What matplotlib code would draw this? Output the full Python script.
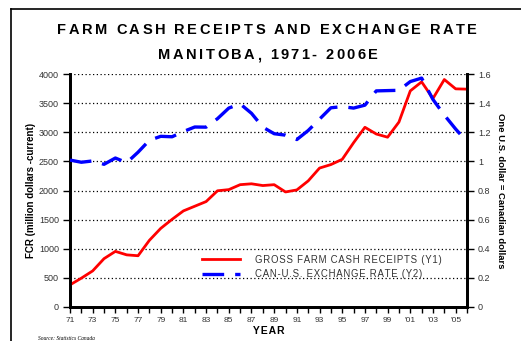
import matplotlib
matplotlib.use("Agg")
import matplotlib.pyplot as plt
from matplotlib.lines import Line2D
from matplotlib.font_manager import FontProperties

years = list(range(1971, 2007))
receipts = [380, 495, 620, 830, 955, 895, 880, 1145, 1350, 1505, 1650, 1730, 1810,
            1995, 2015, 2100, 2115, 2085, 2100, 1975, 2010, 2165, 2385, 2445, 2535,
            2820, 3085, 2970, 2915, 3175, 3710, 3865, 3580, 3905, 3745, 3740]
exchange = [1.009, 0.994, 1.003, 0.980, 1.023, 0.991, 1.063, 1.145, 1.172, 1.169,
            1.205, 1.236, 1.235, 1.293, 1.366, 1.395, 1.330, 1.235, 1.190, 1.180,
            1.150, 1.212, 1.290, 1.368, 1.376, 1.366, 1.386, 1.484, 1.486, 1.488,
            1.548, 1.572, 1.425, 1.318, 1.222, 1.135]
left_ticks = list(range(0, 4001, 500))
right_ticks = [0, 0.2, 0.4, 0.6, 0.8, 1, 1.2, 1.4, 1.6]
right_labels = ["0", "0.2", "0.4", "0.6", "0.8", "1", "1.2", "1.4", "1.6"]
year_labels = ["71", "73", "75", "77", "79", "81", "83", "85", "87", "89", "91",
               "93", "95", "97", "99", "'01", "'03", "'05"]
title_lines = ["FARM CASH RECEIPTS AND EXCHANGE RATE", "MANITOBA, 1971- 2006E"]

plt.rcParams['font.family'] = ['Liberation Sans', 'DejaVu Sans']

W, H = 521, 341
fig = plt.figure(figsize=(W/100, H/100), dpi=100)
renderer = fig.canvas.get_renderer()


def tracked_text(s, xc, y, size, track, weight='bold', color='black'):
    """Draw a line of text centred on xc (pixels) with extra letter spacing."""
    prop = FontProperties(family='Liberation Sans', size=size, weight=weight)
    widths = [renderer.get_text_width_height_descent(c, prop, ismath=False)[0] for c in s]
    total = sum(widths) + track * (len(s) - 1)
    x = xc - total / 2
    for c, w in zip(s, widths):
        fig.text(x / W, 1 - y / H, c, fontproperties=prop, color=color,
                 ha='left', va='center')
        x += w + track


ax = fig.add_axes([70/W, 1-307/H, (467-70)/W, (307-74)/H])
ax2 = ax.twinx()

ax.set_xlim(1971, 2006)
ax.set_ylim(0, 4000)
ax2.set_ylim(0, 1.6)

for y in left_ticks[1:]:
    ax.axhline(y, color='black', lw=0.9, ls=(0, (1, 2)), zorder=1)

red, = ax.plot(years, receipts, color='#ff0000', lw=2.0, zorder=3)
blue, = ax2.plot(years, exchange, color='#0000ff', lw=2.4, ls=(0, (6.5, 3.3)), zorder=3)

for a in (ax, ax2):
    for s in a.spines.values():
        s.set_linewidth(2.0)
    a.spines['top'].set_visible(False)

ax.set_yticks(left_ticks)
ax.set_yticklabels([str(v) for v in left_ticks], fontsize=6.5, color='#333333')
ax2.set_yticks(right_ticks)
ax2.set_yticklabels(right_labels, fontsize=6.5, color='#333333')
ax.set_xticks(years)
ax.set_xticklabels([year_labels[(y - 1971)//2] if (y - 1971) % 2 == 0 else "" for y in years],
                   fontsize=6, color='#333333')
ax.tick_params(axis='y', length=5, width=1, pad=3)
ax2.tick_params(axis='y', length=5, width=1, pad=3)
ax.tick_params(axis='x', length=4, width=1, pad=3)

ax.set_ylabel("FCR (million dollars -current)", fontsize=7, fontweight='bold', labelpad=2)
ax2.set_ylabel("One U.S. dollar = Canadian dollars", fontsize=6.8, fontweight='bold',
               rotation=-90, labelpad=10)
ax.set_xlabel("\u200aY\u200aE\u200aA\u200aR", fontsize=7.5, fontweight='bold', labelpad=2)

tracked_text(title_lines[0], 267, 30, 10.5, 2.5)
tracked_text(title_lines[1], 268, 55, 10.5, 2.4)

ax.legend([red, blue],
          ["\u200a".join("GROSS FARM CASH RECEIPTS (Y1)"),
           "\u200a".join("CAN-U.S. EXCHANGE RATE (Y2)")],
          loc='upper left', bbox_to_anchor=(0.31, 0.262), frameon=False, fontsize=6.9,
          handlelength=4.0, handletextpad=1.6, labelspacing=0.5, labelcolor='#333333')

fig.text(38/W, 1-338/H, "Source: Statistics Canada", fontsize=4, style='italic',
         family='Liberation Serif', va='center')

fig.add_artist(Line2D([11/W, 11/W], [0, 1-9/H], color='black', lw=1.2))
fig.add_artist(Line2D([11/W, 1], [1-9/H, 1-9/H], color='black', lw=1.2))

fig.savefig("out.png", dpi=100)
